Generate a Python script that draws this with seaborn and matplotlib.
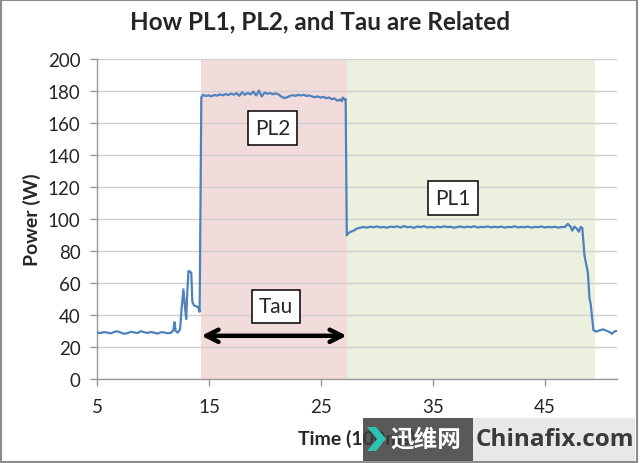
import matplotlib
matplotlib.use("Agg")
import matplotlib.pyplot as plt
from matplotlib.patches import Rectangle, Polygon
import seaborn as sns

# time in units of 100 ms, power in W
time_100ms = [
    5.0, 5.3, 5.6, 5.9, 6.2, 6.5, 6.8, 7.1, 7.4, 7.7, 8.0, 8.3, 8.6, 8.9, 9.2,
    9.5, 9.8, 10.1, 10.4, 10.7, 11.0, 11.3, 11.6, 11.8, 11.9, 12.0, 12.2, 12.4,
    12.55, 12.7, 12.85, 12.95, 13.05, 13.15, 13.3, 13.4, 13.5, 13.65, 13.8, 14.0,
    14.15, 14.3,
    14.45, 14.7, 14.95, 15.2, 15.45, 15.7, 15.95, 16.2, 16.45, 16.7, 16.95, 17.2,
    17.45, 17.7, 17.95, 18.2, 18.45, 18.7, 18.95, 19.2, 19.45, 19.7, 19.95, 20.2,
    20.45, 20.7, 20.95, 21.2, 21.45, 21.7, 21.95, 22.2, 22.45, 22.7, 22.95, 23.2,
    23.45, 23.7, 23.95, 24.2, 24.45, 24.7, 24.95, 25.2, 25.45, 25.7, 25.95, 26.2,
    26.45, 26.7, 26.85, 26.95, 27.1, 27.2,
    27.3, 27.45, 27.65, 27.9, 28.2, 28.5, 28.8,
    29.1, 29.4, 29.7, 30.0, 30.3, 30.6, 30.9, 31.2, 31.5, 31.8, 32.1, 32.4, 32.7,
    33.0, 33.3, 33.6, 33.9, 34.2, 34.5, 34.8, 35.1, 35.4, 35.7, 36.0, 36.3, 36.6,
    36.9, 37.2, 37.5, 37.8, 38.1, 38.4, 38.7, 39.0, 39.3, 39.6, 39.9, 40.2, 40.5,
    40.8, 41.1, 41.4, 41.7, 42.0, 42.3, 42.6, 42.9, 43.2, 43.5, 43.8, 44.1, 44.4,
    44.7, 45.0, 45.3, 45.6, 45.9, 46.2, 46.5, 46.8,
    47.05, 47.3, 47.45, 47.65, 47.85, 48.05, 48.2, 48.35,
    48.55, 48.85, 49.0, 49.1, 49.35,
    49.6, 49.9, 50.2, 50.5, 50.8, 51.0, 51.2, 51.4,
]
power_w = [
    29.0, 28.7, 29.3, 29.0, 28.5, 29.4, 29.8, 29.0, 28.3, 28.6, 29.5, 29.1, 28.7,
    29.9, 29.2, 28.8, 29.4, 28.9, 28.4, 29.3, 29.0, 28.6, 28.9, 30.5, 35.5, 30.0,
    29.0, 31.0, 45.0, 56.0, 44.0, 37.5, 55.0, 67.5, 67.0, 66.5, 48.0, 46.0, 45.5,
    45.0, 42.0, 176.0,
    177.5, 176.8, 177.2, 176.6, 177.4, 177.0, 177.8, 177.2, 178.0, 177.4, 178.3,
    177.6, 178.6, 176.9, 179.2, 177.5, 178.8, 177.8, 179.6, 177.1, 180.2, 176.5,
    178.9, 178.2, 178.6, 177.9, 178.4, 177.8, 176.4, 175.6, 175.9, 176.8, 177.3,
    176.9, 177.5, 177.1, 177.6, 176.8, 177.2, 176.5, 176.0, 176.6, 175.8, 176.3,
    175.4, 175.9, 174.8, 175.3, 173.9, 174.6, 173.6, 175.8, 174.5, 174.8,
    89.8, 91.2, 92.0, 92.6, 94.0, 94.5, 95.0,
    94.6, 95.1, 94.8, 95.3, 94.7, 95.0, 94.5, 95.2, 94.9, 95.4, 94.6, 95.6, 94.8,
    95.1, 94.4, 95.3, 94.9, 95.5, 94.7, 95.0, 94.6, 95.2, 94.8, 95.4, 94.9, 95.1,
    94.5, 95.0, 95.3, 94.7, 95.2, 94.8, 95.5, 94.6, 95.0, 94.9, 95.3, 94.7, 95.1,
    94.8, 95.2, 94.6, 95.0, 94.9, 95.4, 94.7, 95.0, 94.8, 95.2, 94.6, 95.0, 94.9,
    95.3, 94.7, 95.0, 94.8, 95.1, 94.6, 95.0, 94.9,
    96.9, 95.2, 92.7, 95.2, 94.0, 92.0, 95.0, 94.4,
    77.0, 66.5, 50.0, 47.0, 30.5,
    29.6, 30.4, 31.0, 30.2, 29.3, 28.2, 29.6, 30.0,
]

pl2_span = (14.3, 27.3)
pl1_span = (27.3, 49.45)
tau_level = 27

sns.set_style("white")
plt.rcParams['font.family'] = ['Lato', 'DejaVu Sans']

fig = plt.figure(figsize=(6.4, 4.64), dpi=100)
ax = fig.add_axes([0.152, 0.181, 0.812, 0.690])

ax.axvspan(*pl2_span, color='#F2DCDB', zorder=0.1, lw=0)
ax.axvspan(*pl1_span, color='#EBF1DE', zorder=0.1, lw=0)

sns.lineplot(x=time_100ms, y=power_w, ax=ax, color='#4F81BD', lw=1.6,
             zorder=3, estimator=None, sort=False)

ax.set_xlim(5, 51.45)
ax.set_ylim(0, 200)
ax.set_yticks(range(0, 201, 20))
ax.set_xticks([5, 15, 25, 35, 45])
ax.set_axisbelow(True)
ax.yaxis.grid(True, color='#d0d0d0', lw=1, zorder=0.5)
ax.xaxis.grid(False)
for s in ['top', 'right']:
    ax.spines[s].set_visible(False)
for s in ['left', 'bottom']:
    ax.spines[s].set_color('#9a9a9a')
    ax.spines[s].set_linewidth(1)
ax.tick_params(axis='y', length=5, width=1, color='#9a9a9a', pad=7,
               labelsize=13.5, left=True)
ax.tick_params(axis='x', length=5, width=1, color='#9a9a9a', pad=9,
               labelsize=13.5, bottom=True)

ax.set_ylabel('Power (W)', fontsize=14, fontweight='bold', labelpad=5)
ax.set_xlabel('Time (100ms)', fontsize=14, fontweight='bold', labelpad=10)
fig.suptitle('How PL1, PL2, and Tau are Related', fontsize=17.5,
             fontweight='bold', y=0.978)

box = dict(boxstyle='square,pad=0.33', fc='white', ec='black', lw=1.1)
ax.text(20.7, 156.6, 'PL2', ha='center', va='center', fontsize=15, bbox=box,
        zorder=5)
ax.text(36.8, 113, 'PL1', ha='center', va='center', fontsize=15, bbox=box,
        zorder=5)
ax.text(20.95, 45.3, 'Tau', ha='center', va='center', fontsize=15, bbox=box,
        zorder=5)
ax.annotate('', xy=(pl2_span[0], tau_level), xytext=(pl2_span[1], tau_level),
            arrowprops=dict(arrowstyle='<->', lw=3.2, color='black',
                            mutation_scale=22, shrinkA=0, shrinkB=0),
            zorder=5)

# outer frame
fig.patches.append(Rectangle((0.002, 0.002), 0.993, 0.995,
                             transform=fig.transFigure, fill=False,
                             ec='#8c8c8c', lw=1.5))

# watermark
fig.patches.append(Rectangle((363 / 640, 2 / 464), 110 / 640, 43 / 464,
                             transform=fig.transFigure, fc='#3c3c3c',
                             alpha=0.85, ec='none', zorder=10))
fig.patches.append(Rectangle((473 / 640, 2 / 464), 162 / 640, 43 / 464,
                             transform=fig.transFigure, fc='#e6e6e6',
                             alpha=0.92, ec='none', zorder=10))
fig.patches.append(Polygon([(367 / 640, 36 / 464), (376 / 640, 36 / 464),
                            (386 / 640, 24 / 464), (376 / 640, 12 / 464),
                            (367 / 640, 12 / 464), (377 / 640, 24 / 464)],
                           transform=fig.transFigure, fc='#2cc3b0',
                           ec='none', zorder=11))
fig.text(426 / 640, 25 / 464, '迅维网', family=['Noto Sans CJK SC'],
         color='white', fontsize=17, fontweight='bold', ha='center',
         va='center', zorder=12)
fig.text(555 / 640, 24 / 464, 'Chinafix.com', color='#3a3a3a', fontsize=17.5,
         fontweight='bold', ha='center', va='center', zorder=12,
         family=['Open Sans', 'DejaVu Sans'])

fig.savefig('out.png', dpi=100)
